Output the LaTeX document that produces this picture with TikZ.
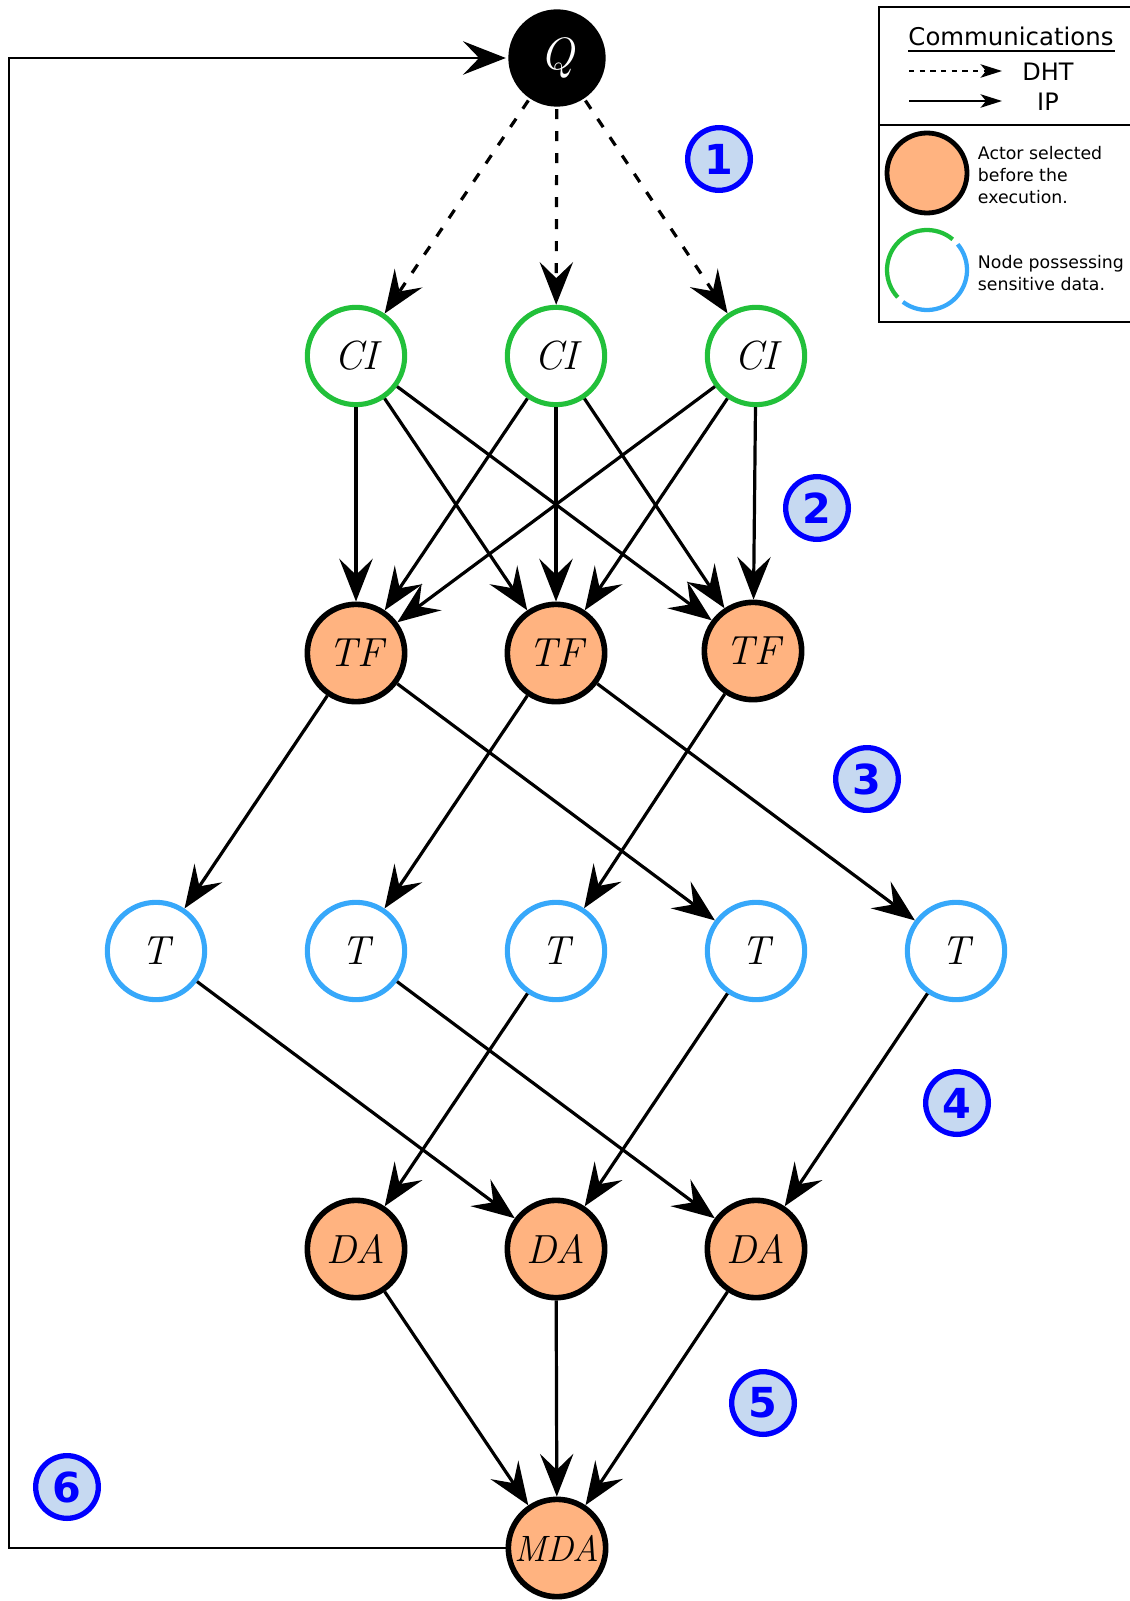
\documentclass[tikz,border=0pt]{standalone}
\usepackage{fontspec}
\setsansfont{DejaVu Sans}
\usetikzlibrary{arrows.meta}

\definecolor{actorfill}{RGB}{255,179,128}
\definecolor{cigreen}{RGB}{34,192,58}
\definecolor{tblue}{RGB}{55,168,250}
\definecolor{phasefill}{RGB}{198,217,241}

\tikzset{every picture/.style={line width=0.75pt}}
\tikzset{
  base/.style={circle, minimum size=73pt, inner sep=0pt, line width=3.8pt, font=\fontsize{30.5}{32}\selectfont\itshape},
  ci/.style={base, draw=cigreen},
  tnode/.style={base, draw=tblue},
  actor/.style={base, draw=black, fill=actorfill, line width=4.2pt},
  query/.style={base, fill=black, text=white, font=\fontsize{34}{36}\selectfont\itshape},
  phase/.style={circle, draw=blue, fill=phasefill, text=blue, line width=4pt, minimum size=47pt, inner sep=0pt, font=\sffamily\bfseries\fontsize{31}{33}\selectfont},
  ip/.style={line width=2.4pt, -{Stealth[length=32pt,width=25pt,inset=12pt]}},
  dht/.style={ip, dash pattern=on 7.5pt off 9pt},
  keyline/.style={line width=1.9pt, -{Stealth[length=16pt,width=10pt,inset=4pt]}},
}

\begin{document}
\begin{tikzpicture}[x=0.75pt,y=0.75pt,yscale=-1,xscale=1]
	\useasboundingbox (0,0) rectangle (1129,1601);
	
	% Query
	\node[query] (q) at (557,58) {Q};
	% Row of CI
	\node[ci] (ci1) at (356,356) {CI};
	\node[ci] (ci2) at (556,356) {CI};
	\node[ci] (ci3) at (756,356) {CI};
	% Row of TF
	\node[actor] (tf1) at (356,653) {TF};
	\node[actor] (tf2) at (556,653) {TF};
	\node[actor] (tf3) at (753,651) {TF};
	% Row of T
	\node[tnode] (t1) at (156,951) {T};
	\node[tnode] (t2) at (356,951) {T};
	\node[tnode] (t3) at (556,951) {T};
	\node[tnode] (t4) at (756,951) {T};
	\node[tnode] (t5) at (956,951) {T};
	% Row of DA
	\node[actor] (da1) at (356,1249) {DA};
	\node[actor] (da2) at (556,1249) {DA};
	\node[actor] (da3) at (756,1249) {DA};
	% MDA
	\node[actor, font=\fontsize{27.5}{29}\selectfont\itshape] (mda) at (557,1548) {MDA};
	
	% DHT lookups
	\draw[dht] (q) -- (ci1);
	\draw[dht] (q) -- (ci2);
	\draw[dht] (q) -- (ci3);
	
	% CI -> TF
	\foreach \i in {1,2,3} {
		\foreach \j in {1,2,3} {
			\draw[ip] (ci\i) -- (tf\j);
		}
	}
	
	% TF -> T
	\draw[ip] (tf1) -- (t1);
	\draw[ip] (tf1) -- (t4);
	\draw[ip] (tf2) -- (t2);
	\draw[ip] (tf2) -- (t5);
	\draw[ip] (tf3) -- (t3);
	
	% T -> DA
	\draw[ip] (t1) -- (da2);
	\draw[ip] (t2) -- (da3);
	\draw[ip] (t3) -- (da1);
	\draw[ip] (t4) -- (da2);
	\draw[ip] (t5) -- (da3);
	
	% DA -> MDA
	\draw[ip] (da1) -- (mda);
	\draw[ip] (da2) -- (mda);
	\draw[ip] (da3) -- (mda);
	
	% back to the query
	\coordinate (rim) at (9,0);
	\draw[ip, line width=2pt] (mda.west) -- (mda.west -| rim) -- (q.west -| rim) -- (q.west);
	
	% Steps
	\node[phase] (p1) at (719,159) {1};
	\node[phase] (p2) at (817,508) {2};
	\node[phase] (p3) at (867,779) {3};
	\node[phase] (p4) at (957,1103) {4};
	\node[phase] (p5) at (763,1403) {5};
	\node[phase] (p6) at (67,1487) {6};
	
	% Legend box
	\draw[line width=1.4pt] (1140,7) -- (879,7) -- (879,322) -- (1140,322);
	\draw[line width=1.4pt] (879,125) -- (1140,125);
	
	\node[font=\sffamily\fontsize{18.3}{20}\selectfont] (comm) at (1011,36) {Communications};
	\draw[line width=1.4pt] (908,51) -- (1115,51);
	
	\coordinate (dhta) at (909,71);
	\coordinate (dhtb) at (1002,71);
	\draw[keyline, dash pattern=on 4pt off 4pt] (dhta) -- (dhtb);
	\node[font=\sffamily\fontsize{18}{20}\selectfont] (dhtlbl) at (1048,72) {DHT};
	
	\coordinate (ipa) at (909,101);
	\coordinate (ipb) at (1002,101);
	\draw[keyline] (ipa) -- (ipb);
	\node[font=\sffamily\fontsize{18}{20}\selectfont] (iplbl) at (1048,102) {IP};
	
	\node[actor, minimum size=60pt, line width=3.6pt] (keyactor) at (927,173) {};
	\node[anchor=west, align=left, font=\sffamily\fontsize{13}{16.5}\selectfont] (actorlbl) at (973,175) {Actor selected\\before the\\execution.};
	
	\draw[cigreen, line width=3.2pt] (927,270) ++(-50:40) arc[start angle=-50, end angle=-223, radius=40];
	\draw[tblue, line width=3.2pt] (927,270) ++(-233:40) arc[start angle=-233, end angle=-400, radius=40];
	\node[anchor=west, align=left, font=\sffamily\fontsize{13}{16.5}\selectfont] (datalbl) at (973,273) {Node possessing\\sensitive data.};
	
\end{tikzpicture}
\end{document}
